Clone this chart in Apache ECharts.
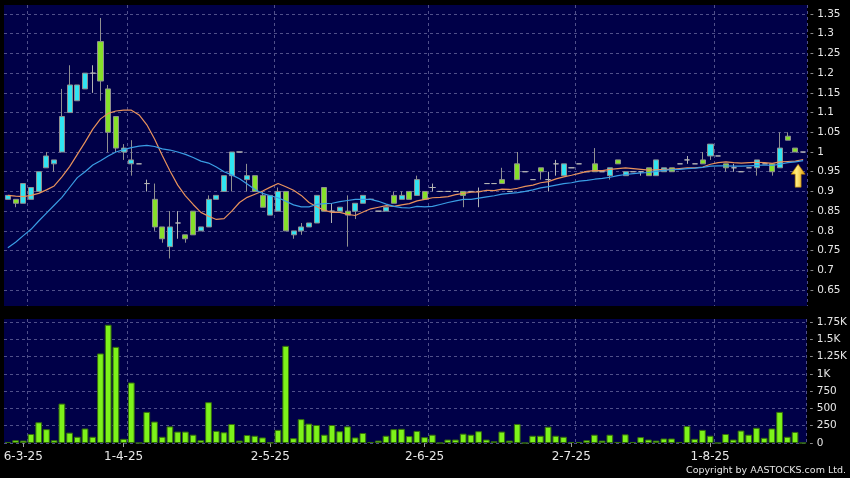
<!DOCTYPE html>
<html>
<head>
<meta charset="utf-8">
<script src="https://cdn.jsdelivr.net/npm/echarts@6.0.0/dist/echarts.min.js"></script>
<style>
html,body{margin:0;padding:0;background:#000;}
#c{width:850px;height:478px;}
</style>
</head>
<body>
<div id="c"></div>
<script>
// ---- x axis tick labels (category index -> date text) ----
const xTickIndex = [2, 15, 34, 54, 73, 91];
const xTickLabels = ['6-3-25', '1-4-25', '2-5-25', '2-6-25', '2-7-25', '1-8-25'];

// ---- daily OHLC ----
const opens = [
  0.88,0.88,0.87,0.88,0.90,0.96,0.97,1.00,1.10,1.13,
  1.16,1.20,1.28,1.16,1.09,1.00,0.97,0.97,0.92,0.88,
  0.81,0.76,0.82,0.79,0.85,0.80,0.81,0.88,0.90,0.94,
  1.00,0.93,0.94,0.89,0.84,0.85,0.90,0.79,0.80,0.81,
  0.82,0.91,0.85,0.85,0.85,0.85,0.87,0.88,0.85,0.85,
  0.89,0.88,0.90,0.89,0.90,0.91,0.90,0.90,0.90,0.90,
  0.90,0.90,0.92,0.92,0.93,0.90,0.97,0.95,0.93,0.96,
  0.93,0.97,0.94,0.96,0.97,0.95,0.97,0.95,0.94,0.98,
  0.94,0.95,0.95,0.96,0.94,0.95,0.96,0.97,0.98,0.97,
  0.98,0.99,0.99,0.97,0.96,0.95,0.96,0.96,0.97,0.97,
  0.96,1.04,1.01,1.00
];
const closes = [
  0.89,0.87,0.92,0.91,0.95,0.99,0.98,1.09,1.17,1.17,
  1.20,1.20,1.18,1.05,1.01,1.01,0.98,0.97,0.92,0.81,
  0.78,0.81,0.82,0.78,0.79,0.81,0.88,0.89,0.94,1.00,
  1.00,0.94,0.90,0.86,0.89,0.90,0.80,0.80,0.81,0.82,
  0.89,0.85,0.85,0.86,0.84,0.87,0.89,0.88,0.85,0.86,
  0.87,0.89,0.88,0.93,0.88,0.91,0.90,0.90,0.90,0.89,
  0.90,0.90,0.92,0.92,0.92,0.90,0.93,0.95,0.93,0.95,
  0.93,0.97,0.97,0.96,0.97,0.95,0.95,0.95,0.96,0.97,
  0.95,0.95,0.95,0.94,0.98,0.96,0.95,0.97,0.98,0.97,
  0.97,1.02,0.99,0.96,0.96,0.95,0.96,0.98,0.97,0.95,
  1.01,1.03,1.00,1.00
];
const lows = [
  0.88,0.86,0.87,0.88,0.90,0.96,0.95,1.00,1.10,1.13,
  1.16,1.15,1.13,1.00,1.00,0.98,0.94,0.97,0.90,0.80,
  0.77,0.73,0.78,0.77,0.79,0.80,0.81,0.88,0.90,0.90,
  1.00,0.90,0.90,0.86,0.84,0.85,0.80,0.78,0.79,0.81,
  0.82,0.85,0.82,0.85,0.76,0.83,0.87,0.88,0.85,0.85,
  0.87,0.88,0.88,0.89,0.88,0.90,0.90,0.90,0.90,0.86,
  0.90,0.86,0.92,0.92,0.92,0.90,0.93,0.95,0.93,0.93,
  0.90,0.94,0.94,0.96,0.97,0.95,0.95,0.95,0.93,0.97,
  0.94,0.95,0.94,0.94,0.94,0.95,0.95,0.97,0.97,0.97,
  0.97,0.98,0.99,0.95,0.95,0.95,0.96,0.94,0.97,0.94,
  0.96,1.03,1.00,1.00
];
const highs = [
  0.89,0.88,0.92,0.91,0.95,1.00,0.98,1.16,1.22,1.17,
  1.20,1.22,1.34,1.17,1.09,1.02,1.03,0.97,0.93,0.92,
  0.81,0.85,0.85,0.79,0.85,0.81,0.89,0.89,0.94,1.00,
  1.00,0.97,0.94,0.90,0.89,0.91,0.90,0.80,0.82,0.82,
  0.89,0.91,0.87,0.86,0.89,0.87,0.89,0.88,0.85,0.86,
  0.90,0.90,0.90,0.94,0.90,0.92,0.90,0.90,0.90,0.90,
  0.90,0.91,0.92,0.92,0.96,0.90,1.00,0.95,0.93,0.96,
  0.95,0.98,0.97,0.96,0.97,0.95,1.01,0.95,0.96,0.98,
  0.95,0.95,0.95,0.96,0.98,0.96,0.96,0.97,0.99,0.97,
  1.00,1.02,0.99,0.97,0.97,0.95,0.96,0.98,0.97,0.97,
  1.05,1.05,1.01,1.00
];

// ---- moving averages ----
const ma10 = [
  0.890,0.888,0.887,0.890,0.895,0.904,0.914,0.937,0.963,
  0.994,1.025,1.058,1.084,1.098,1.104,1.106,1.106,1.094,1.069,
  1.033,0.991,0.952,0.916,0.889,0.867,0.847,0.837,0.829,0.831,
  0.850,0.872,0.885,0.893,0.901,0.911,0.920,0.912,0.903,0.890,
  0.872,0.861,0.852,0.847,0.847,0.842,0.839,0.848,0.856,0.860,
  0.864,0.862,0.866,0.869,0.876,0.880,0.884,0.885,0.887,0.892,
  0.895,0.898,0.899,0.903,0.902,0.906,0.905,0.908,0.913,0.916,
  0.922,0.925,0.932,0.937,0.941,0.946,0.951,0.953,0.953,0.956,
  0.958,0.960,0.958,0.956,0.954,0.955,0.956,0.956,0.958,0.960,
  0.960,0.962,0.969,0.973,0.975,0.973,0.972,0.973,0.974,0.973,
  0.971,0.975,0.976,0.977,0.981
];
const ma20 = [
  0.757,0.771,0.788,0.804,0.825,0.845,0.865,0.885,0.910,0.935,
  0.950,0.967,0.978,0.990,1.000,1.006,1.011,1.015,1.017,
  1.014,1.008,1.005,1.000,0.994,0.986,0.977,0.972,0.962,0.950,
  0.942,0.932,0.919,0.905,0.895,0.889,0.884,0.875,0.866,0.861,
  0.861,0.867,0.869,0.870,0.874,0.877,0.880,0.880,0.880,0.875,
  0.868,0.862,0.859,0.858,0.862,0.861,0.862,0.867,0.872,0.876,
  0.880,0.880,0.883,0.886,0.889,0.893,0.895,0.897,0.900,0.904,
  0.909,0.912,0.916,0.920,0.922,0.926,0.928,0.931,0.933,0.936,
  0.940,0.943,0.945,0.947,0.948,0.951,0.954,0.955,0.956,0.958,
  0.959,0.961,0.964,0.965,0.965,0.964,0.964,0.965,0.966,0.967,
  0.966,0.969,0.973,0.975,0.978
];

// ---- volume (thousands) ----
const volumes = [
  15,40,35,130,300,200,40,570,150,90,
  210,90,1295,1710,1390,60,875,0,450,310,
  90,240,165,165,120,40,590,175,155,275,
  35,115,105,80,5,190,1405,70,345,280,
  260,120,260,170,240,80,145,15,35,105,
  200,205,100,175,85,120,0,50,50,135,
  120,170,50,25,165,35,275,0,105,105,
  235,105,90,15,15,40,120,35,120,15,
  125,15,85,50,35,65,65,15,245,60,
  190,105,0,130,50,180,120,220,75,210,
  450,90,160,0
];

// ---- y axis ticks ----
const priceTicks = [0.65,0.7,0.75,0.8,0.85,0.9,0.95,1,1.05,1.1,1.15,1.2,1.25,1.3,1.35];
const priceTickLabels = ['0.65','0.7','0.75','0.8','0.85','0.9','0.95','1','1.05','1.1','1.15','1.2','1.25','1.3','1.35'];
const priceMin = 0.6095, priceMax = 1.3728;
const volTicks = [0,250,500,750,1000,1250,1500,1750];
const volTickLabels = ['0','250','500','750','1K','1.25K','1.5K','1.75K'];
const volMax = 1793;

// ---- annotation arrow ----
const arrowIndex = 103, arrowPrice = 0.94;

const categories = opens.map((_, i) => String(i));
const candleData = opens.map((o, i) => [o, closes[i], lows[i], highs[i]]);
const tickSet = new Set(xTickIndex);
const labelOf = {};
xTickIndex.forEach((k, j) => { labelOf[k] = xTickLabels[j]; });

const FONT = 'DejaVu Sans';
const gridLine = { show: true, lineStyle: { color: '#50508a', type: [3, 3], width: 1 } };

function tickText(ticks, labels, v) {
  for (let i = 0; i < ticks.length; i++) {
    if (Math.abs(ticks[i] - v) < 1e-6) return '{d|-} ' + labels[i];
  }
  return '';
}

const chart = echarts.init(document.getElementById('c'), null, { renderer: 'canvas' });
chart.setOption({
  animation: false,
  backgroundColor: '#000000',
  textStyle: { fontFamily: FONT },
  title: {
    text: 'Copyright by AASTOCKS.com Ltd.',
    right: 4, bottom: 2, padding: 0,
    textStyle: { color: '#e6e6e6', fontSize: 9.5, fontWeight: 'normal', fontFamily: FONT }
  },
  grid: [
    { left: 4, top: 5, width: 803, height: 301, show: true, backgroundColor: '#000048', borderWidth: 0 },
    { left: 4, top: 319, width: 803, height: 124, show: true, backgroundColor: '#000048', borderWidth: 0 }
  ],
  xAxis: [
    {
      type: 'category', gridIndex: 0, data: categories, boundaryGap: true,
      axisLine: { show: false }, axisTick: { show: false }, axisLabel: { show: false },
      splitLine: Object.assign({ interval: (i) => tickSet.has(i - 1) }, gridLine)
    },
    {
      type: 'category', gridIndex: 1, data: categories, boundaryGap: true,
      axisLine: { show: false },
      axisTick: { show: true, alignWithLabel: true, length: 4, interval: (i) => tickSet.has(i),
                  lineStyle: { color: '#9a9a9a' } },
      axisLabel: { show: true, interval: (i) => tickSet.has(i), margin: 8,
                   color: '#e6e6e6', fontSize: 12, fontFamily: FONT,
                   formatter: (v, i) => labelOf[i] || '' },
      splitLine: Object.assign({ interval: (i) => tickSet.has(i - 1) }, gridLine)
    }
  ],
  yAxis: [
    {
      type: 'value', gridIndex: 0, position: 'right', min: priceMin, max: priceMax, scale: true,
      axisLine: { show: false },
      axisTick: { show: false, customValues: priceTicks },
      axisLabel: { customValues: priceTicks, margin: 3, color: '#e6e6e6', fontSize: 10.5, fontFamily: FONT,
                   formatter: (v) => tickText(priceTicks, priceTickLabels, v),
                   rich: { d: { color: '#a0a0a0', fontSize: 10.5, fontFamily: FONT } } },
      splitLine: gridLine
    },
    {
      type: 'value', gridIndex: 1, position: 'right', min: 0, max: volMax,
      axisLine: { show: false },
      axisTick: { show: false, customValues: volTicks },
      axisLabel: { customValues: volTicks, margin: 3, color: '#e6e6e6', fontSize: 10.5, fontFamily: FONT,
                   formatter: (v) => tickText(volTicks, volTickLabels, v),
                   rich: { d: { color: '#a0a0a0', fontSize: 10.5, fontFamily: FONT } } },
      splitLine: gridLine
    }
  ],
  series: [
    {
      name: 'K', type: 'candlestick', xAxisIndex: 0, yAxisIndex: 0, data: candleData,
      barWidth: '72%', z: 2,
      itemStyle: {
        color: '#30e4f2', color0: '#86e02a',
        borderColor: '#909090', borderColor0: '#909090', borderColorDoji: '#b4b4b4',
        borderWidth: 1
      },
      markPoint: {
        silent: true,
        symbol: 'path://M7,0 L14,10 L10,10 L10,23 L4,23 L4,10 L0,10 Z',
        symbolSize: [14, 23],
        symbolOffset: [-5, 0],
        label: { show: false },
        itemStyle: {
          color: { type: 'linear', x: 0, y: 0, x2: 1, y2: 0,
                   colorStops: [{ offset: 0, color: '#ffd21a' }, { offset: 0.4, color: '#ffec80' }, { offset: 1, color: '#e09a00' }] },
          borderColor: '#b07800', borderWidth: 0.6
        },
        data: [{ coord: [String(arrowIndex), arrowPrice] }]
      }
    },
    {
      name: 'MA10', type: 'line', xAxisIndex: 0, yAxisIndex: 0, data: ma10, z: 3,
      symbol: 'none', smooth: false,
      lineStyle: { color: '#e8925c', width: 1.2 }
    },
    {
      name: 'MA20', type: 'line', xAxisIndex: 0, yAxisIndex: 0, data: ma20, z: 3,
      symbol: 'none', smooth: false,
      lineStyle: { color: '#3a9de4', width: 1.2 }
    },
    {
      name: 'Vol', type: 'bar', xAxisIndex: 1, yAxisIndex: 1, data: volumes,
      barWidth: '87%',
      itemStyle: { color: '#7df21a', borderColor: '#356e0c', borderWidth: 1 }
    }
  ]
});
</script>
</body>
</html>
